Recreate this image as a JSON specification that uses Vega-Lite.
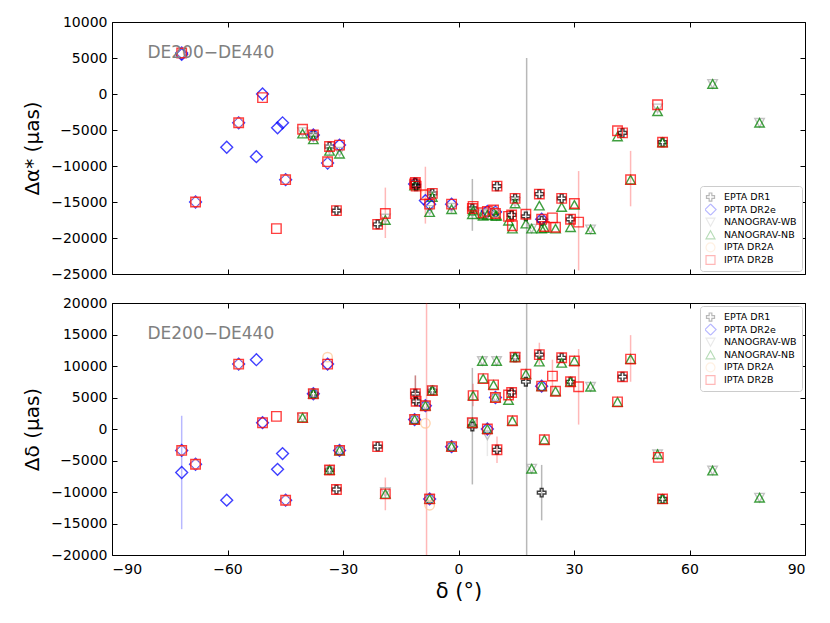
{
  "$schema": "https://vega.github.io/schema/vega-lite/v6.json",
  "background": "white",
  "padding": {"left": 22, "top": 14, "right": 24, "bottom": 20},
  "config": {
    "font": "DejaVu Sans",
    "view": {"stroke": "#000000", "strokeWidth": 1},
    "axis": {
      "domain": false, "grid": false, "tickColor": "#000000", "tickSize": -5, "tickWidth": 1,
      "labelFontSize": 14, "labelColor": "#000000", "labelPadding": 10,
      "titleFontSize": 20, "titleFontWeight": "normal", "titleColor": "#000000", "format": "d"
    },
    "legend": {
      "title": null, "labelFontSize": 9.5, "labelColor": "#000000", "symbolSize": 80, "symbolStrokeWidth": 1.2,
      "rowPadding": 0.6, "clipHeight": 12, "padding": 5, "strokeColor": "#cccccc", "fillColor": "#ffffff", "cornerRadius": 3,
      "offset": 3, "labelOffset": 8
    }
  },
  "datasets": {
    "ra": [
      {"s": "PPTA DR2e", "d": -71.9, "v": 5500},
      {"s": "PPTA DR2e", "d": -71.9, "v": 5700}, {"s": "IPTA DR2A", "d": -71.9, "v": 5700}, {"s": "IPTA DR2B", "d": -71.9, "v": 5700},
      {"s": "PPTA DR2e", "d": -68.3, "v": -15000}, {"s": "IPTA DR2A", "d": -68.3, "v": -15000}, {"s": "IPTA DR2B", "d": -68.3, "v": -15000},
      {"s": "PPTA DR2e", "d": -60.2, "v": -7400},
      {"s": "PPTA DR2e", "d": -57.1, "v": -4000}, {"s": "IPTA DR2A", "d": -57.1, "v": -4000}, {"s": "IPTA DR2B", "d": -57.1, "v": -4000},
      {"s": "PPTA DR2e", "d": -52.5, "v": -8700},
      {"s": "PPTA DR2e", "d": -50.9, "v": 0}, {"s": "IPTA DR2B", "d": -50.9, "v": -500},
      {"s": "PPTA DR2e", "d": -47.0, "v": -4700},
      {"s": "PPTA DR2e", "d": -45.7, "v": -4000},
      {"s": "PPTA DR2e", "d": -44.9, "v": -11900}, {"s": "IPTA DR2A", "d": -44.9, "v": -11900}, {"s": "IPTA DR2B", "d": -44.9, "v": -11900},
      {"s": "IPTA DR2B", "d": -47.3, "v": -18700},
      {"s": "NANOGRAV-WB", "d": -40.5, "v": -5300}, {"s": "NANOGRAV-NB", "d": -40.5, "v": -5500}, {"s": "IPTA DR2B", "d": -40.5, "v": -4900},
      {"s": "EPTA DR1", "d": -37.7, "v": -5700}, {"s": "PPTA DR2e", "d": -37.7, "v": -5700}, {"s": "NANOGRAV-WB", "d": -37.7, "v": -6000}, {"s": "NANOGRAV-NB", "d": -37.7, "v": -6300}, {"s": "IPTA DR2B", "d": -37.7, "v": -5700},
      {"s": "PPTA DR2e", "d": -34.0, "v": -9600}, {"s": "IPTA DR2A", "d": -34.0, "v": -9500}, {"s": "IPTA DR2B", "d": -34.0, "v": -9400},
      {"s": "EPTA DR1", "d": -33.5, "v": -7300}, {"s": "NANOGRAV-WB", "d": -33.5, "v": -7700}, {"s": "NANOGRAV-NB", "d": -33.5, "v": -7900}, {"s": "IPTA DR2B", "d": -33.5, "v": -7300},
      {"s": "PPTA DR2e", "d": -30.9, "v": -7100}, {"s": "NANOGRAV-WB", "d": -30.9, "v": -8000}, {"s": "NANOGRAV-NB", "d": -30.9, "v": -8300}, {"s": "IPTA DR2B", "d": -30.9, "v": -7100},
      {"s": "EPTA DR1", "d": -31.7, "v": -16200}, {"s": "IPTA DR2B", "d": -31.7, "v": -16200},
      {"s": "EPTA DR1", "d": -21.0, "v": -18100}, {"s": "IPTA DR2B", "d": -21.0, "v": -18100},
      {"s": "NANOGRAV-WB", "d": -19.0, "v": -17300}, {"s": "NANOGRAV-NB", "d": -19.0, "v": -17500}, {"s": "IPTA DR2B", "d": -19.0, "v": -16600},
      {"s": "PPTA DR2e", "d": -11.4, "v": -12500}, {"s": "NANOGRAV-WB", "d": -11.4, "v": -12700}, {"s": "NANOGRAV-NB", "d": -11.4, "v": -12700}, {"s": "IPTA DR2B", "d": -11.4, "v": -12500},
      {"s": "EPTA DR1", "d": -11.2, "v": -12300}, {"s": "IPTA DR2B", "d": -11.2, "v": -12300},
      {"s": "EPTA DR1", "d": -11.0, "v": -12800}, {"s": "IPTA DR2B", "d": -11.0, "v": -12800},
      {"s": "PPTA DR2e", "d": -8.6, "v": -14800}, {"s": "IPTA DR2A", "d": -8.6, "v": -14000}, {"s": "IPTA DR2B", "d": -8.6, "v": -14000},
      {"s": "EPTA DR1", "d": -6.8, "v": -13800}, {"s": "NANOGRAV-WB", "d": -6.8, "v": -14200}, {"s": "NANOGRAV-NB", "d": -6.8, "v": -14300}, {"s": "IPTA DR2B", "d": -6.8, "v": -13800},
      {"s": "PPTA DR2e", "d": -7.5, "v": -15300}, {"s": "NANOGRAV-WB", "d": -7.5, "v": -16100}, {"s": "NANOGRAV-NB", "d": -7.5, "v": -16400}, {"s": "IPTA DR2B", "d": -7.5, "v": -15300},
      {"s": "PPTA DR2e", "d": -1.8, "v": -15300}, {"s": "NANOGRAV-WB", "d": -1.8, "v": -15800}, {"s": "NANOGRAV-NB", "d": -1.8, "v": -16000}, {"s": "IPTA DR2B", "d": -1.8, "v": -15300},
      {"s": "EPTA DR1", "d": 3.6, "v": -15900}, {"s": "NANOGRAV-WB", "d": 3.6, "v": -16500}, {"s": "NANOGRAV-NB", "d": 3.6, "v": -16700}, {"s": "IPTA DR2B", "d": 3.6, "v": -15900},
      {"s": "NANOGRAV-NB", "d": 3.8, "v": -16200}, {"s": "IPTA DR2B", "d": 3.8, "v": -15600},
      {"s": "NANOGRAV-WB", "d": 6.2, "v": -16700}, {"s": "NANOGRAV-NB", "d": 6.2, "v": -16700},
      {"s": "NANOGRAV-NB", "d": 6.4, "v": -16900}, {"s": "IPTA DR2B", "d": 6.4, "v": -16500},
      {"s": "PPTA DR2e", "d": 7.5, "v": -16300}, {"s": "NANOGRAV-WB", "d": 7.5, "v": -16600}, {"s": "NANOGRAV-NB", "d": 7.5, "v": -16800}, {"s": "IPTA DR2B", "d": 7.5, "v": -16300},
      {"s": "NANOGRAV-NB", "d": 9.1, "v": -16400}, {"s": "IPTA DR2B", "d": 9.1, "v": -16100},
      {"s": "EPTA DR1", "d": 10.0, "v": -12800}, {"s": "IPTA DR2B", "d": 10.0, "v": -12800},
      {"s": "NANOGRAV-WB", "d": 9.9, "v": -16900}, {"s": "NANOGRAV-NB", "d": 9.9, "v": -16900},
      {"s": "PPTA DR2e", "d": 9.6, "v": -16400}, {"s": "NANOGRAV-NB", "d": 9.6, "v": -16900}, {"s": "IPTA DR2A", "d": 9.6, "v": -16500}, {"s": "IPTA DR2B", "d": 9.6, "v": -16600},
      {"s": "EPTA DR1", "d": 14.7, "v": -14500}, {"s": "NANOGRAV-WB", "d": 14.7, "v": -15000}, {"s": "NANOGRAV-NB", "d": 14.7, "v": -15200}, {"s": "IPTA DR2B", "d": 14.7, "v": -14500},
      {"s": "NANOGRAV-NB", "d": 13.0, "v": -17600}, {"s": "IPTA DR2B", "d": 13.0, "v": -17000},
      {"s": "EPTA DR1", "d": 13.8, "v": -16800}, {"s": "IPTA DR2B", "d": 13.8, "v": -16800},
      {"s": "NANOGRAV-NB", "d": 14.0, "v": -18700}, {"s": "IPTA DR2B", "d": 14.0, "v": -18300},
      {"s": "EPTA DR1", "d": 17.5, "v": -17000}, {"s": "NANOGRAV-NB", "d": 17.5, "v": -18000}, {"s": "IPTA DR2B", "d": 17.5, "v": -16700},
      {"s": "NANOGRAV-WB", "d": 19.0, "v": -18700}, {"s": "NANOGRAV-NB", "d": 19.0, "v": -18700},
      {"s": "EPTA DR1", "d": 21.0, "v": -13900}, {"s": "NANOGRAV-NB", "d": 21.0, "v": -15500}, {"s": "IPTA DR2B", "d": 21.0, "v": -13900},
      {"s": "EPTA DR1", "d": 21.6, "v": -17600}, {"s": "PPTA DR2e", "d": 21.6, "v": -17400}, {"s": "NANOGRAV-NB", "d": 21.6, "v": -18700}, {"s": "IPTA DR2B", "d": 21.6, "v": -17400},
      {"s": "NANOGRAV-NB", "d": 22.3, "v": -18600}, {"s": "IPTA DR2B", "d": 22.3, "v": -18400},
      {"s": "IPTA DR2B", "d": 24.4, "v": -17200},
      {"s": "NANOGRAV-NB", "d": 25.2, "v": -18700}, {"s": "IPTA DR2B", "d": 25.2, "v": -18500},
      {"s": "EPTA DR1", "d": 26.8, "v": -14500}, {"s": "NANOGRAV-NB", "d": 26.8, "v": -15700}, {"s": "IPTA DR2B", "d": 26.8, "v": -14500},
      {"s": "EPTA DR1", "d": 29.1, "v": -17400}, {"s": "NANOGRAV-NB", "d": 29.1, "v": -18500}, {"s": "IPTA DR2B", "d": 29.1, "v": -17400},
      {"s": "NANOGRAV-NB", "d": 30.1, "v": -15400}, {"s": "IPTA DR2B", "d": 30.1, "v": -15200},
      {"s": "IPTA DR2B", "d": 31.2, "v": -17800},
      {"s": "NANOGRAV-WB", "d": 34.3, "v": -18800}, {"s": "NANOGRAV-NB", "d": 34.3, "v": -18800},
      {"s": "NANOGRAV-NB", "d": 41.3, "v": -5900}, {"s": "IPTA DR2B", "d": 41.3, "v": -5100},
      {"s": "EPTA DR1", "d": 42.6, "v": -5400}, {"s": "IPTA DR2B", "d": 42.6, "v": -5400},
      {"s": "NANOGRAV-NB", "d": 44.7, "v": -11900}, {"s": "IPTA DR2B", "d": 44.7, "v": -11900},
      {"s": "NANOGRAV-WB", "d": 51.7, "v": -2000}, {"s": "NANOGRAV-NB", "d": 51.7, "v": -2400}, {"s": "IPTA DR2B", "d": 51.7, "v": -1500},
      {"s": "EPTA DR1", "d": 53.0, "v": -6700}, {"s": "NANOGRAV-NB", "d": 53.0, "v": -6700}, {"s": "IPTA DR2B", "d": 53.0, "v": -6700},
      {"s": "NANOGRAV-WB", "d": 66.0, "v": 1400}, {"s": "NANOGRAV-NB", "d": 66.0, "v": 1400},
      {"s": "NANOGRAV-WB", "d": 78.2, "v": -4000}, {"s": "NANOGRAV-NB", "d": 78.2, "v": -4000}
    ],
    "de": [
      {"s": "PPTA DR2e", "d": -71.9, "v": -6900},
      {"s": "PPTA DR2e", "d": -71.9, "v": -3400}, {"s": "IPTA DR2A", "d": -71.9, "v": -3400}, {"s": "IPTA DR2B", "d": -71.9, "v": -3400},
      {"s": "PPTA DR2e", "d": -68.3, "v": -5600}, {"s": "IPTA DR2A", "d": -68.3, "v": -5600}, {"s": "IPTA DR2B", "d": -68.3, "v": -5600},
      {"s": "PPTA DR2e", "d": -60.2, "v": -11300},
      {"s": "PPTA DR2e", "d": -57.1, "v": 10300}, {"s": "IPTA DR2A", "d": -57.1, "v": 10300}, {"s": "IPTA DR2B", "d": -57.1, "v": 10300},
      {"s": "PPTA DR2e", "d": -52.5, "v": 11000},
      {"s": "PPTA DR2e", "d": -50.9, "v": 1000}, {"s": "IPTA DR2B", "d": -50.9, "v": 1000},
      {"s": "PPTA DR2e", "d": -47.0, "v": -6400},
      {"s": "PPTA DR2e", "d": -45.7, "v": -3900},
      {"s": "PPTA DR2e", "d": -44.9, "v": -11300}, {"s": "IPTA DR2A", "d": -44.9, "v": -11300}, {"s": "IPTA DR2B", "d": -44.9, "v": -11300},
      {"s": "IPTA DR2B", "d": -47.3, "v": 2000},
      {"s": "NANOGRAV-WB", "d": -40.5, "v": 1800}, {"s": "NANOGRAV-NB", "d": -40.5, "v": 1800}, {"s": "IPTA DR2B", "d": -40.5, "v": 1800},
      {"s": "EPTA DR1", "d": -37.7, "v": 5600}, {"s": "PPTA DR2e", "d": -37.7, "v": 5600}, {"s": "NANOGRAV-WB", "d": -37.7, "v": 5600}, {"s": "NANOGRAV-NB", "d": -37.7, "v": 5600}, {"s": "IPTA DR2B", "d": -37.7, "v": 5600},
      {"s": "PPTA DR2e", "d": -34.0, "v": 10300}, {"s": "IPTA DR2A", "d": -34.0, "v": 11400}, {"s": "IPTA DR2B", "d": -34.0, "v": 10300},
      {"s": "EPTA DR1", "d": -33.5, "v": -6500}, {"s": "NANOGRAV-WB", "d": -33.5, "v": -6500}, {"s": "NANOGRAV-NB", "d": -33.5, "v": -6500}, {"s": "IPTA DR2B", "d": -33.5, "v": -6500},
      {"s": "PPTA DR2e", "d": -30.9, "v": -3400}, {"s": "NANOGRAV-WB", "d": -30.9, "v": -3400}, {"s": "NANOGRAV-NB", "d": -30.9, "v": -3400}, {"s": "IPTA DR2B", "d": -30.9, "v": -3400},
      {"s": "EPTA DR1", "d": -31.7, "v": -9600}, {"s": "IPTA DR2B", "d": -31.7, "v": -9600},
      {"s": "EPTA DR1", "d": -21.0, "v": -2800}, {"s": "IPTA DR2B", "d": -21.0, "v": -2800},
      {"s": "NANOGRAV-WB", "d": -19.0, "v": -10000}, {"s": "NANOGRAV-NB", "d": -19.0, "v": -10300}, {"s": "IPTA DR2B", "d": -19.0, "v": -10300},
      {"s": "PPTA DR2e", "d": -11.4, "v": 1500}, {"s": "NANOGRAV-WB", "d": -11.4, "v": 1500}, {"s": "NANOGRAV-NB", "d": -11.4, "v": 1500}, {"s": "IPTA DR2B", "d": -11.4, "v": 1500},
      {"s": "EPTA DR1", "d": -11.2, "v": 5600}, {"s": "IPTA DR2B", "d": -11.2, "v": 5600},
      {"s": "EPTA DR1", "d": -11.0, "v": 4400}, {"s": "IPTA DR2B", "d": -11.0, "v": 4400},
      {"s": "PPTA DR2e", "d": -8.6, "v": 3700}, {"s": "NANOGRAV-WB", "d": -8.6, "v": 3700}, {"s": "NANOGRAV-NB", "d": -8.6, "v": 3700}, {"s": "IPTA DR2A", "d": -8.6, "v": 900}, {"s": "IPTA DR2B", "d": -8.6, "v": 3700},
      {"s": "EPTA DR1", "d": -6.8, "v": 6100}, {"s": "NANOGRAV-WB", "d": -6.8, "v": 6100}, {"s": "NANOGRAV-NB", "d": -6.8, "v": 6100}, {"s": "IPTA DR2B", "d": -6.8, "v": 6100},
      {"s": "PPTA DR2e", "d": -7.5, "v": -11100}, {"s": "NANOGRAV-WB", "d": -7.5, "v": -11100}, {"s": "NANOGRAV-NB", "d": -7.5, "v": -11100}, {"s": "IPTA DR2A", "d": -7.5, "v": -12100}, {"s": "IPTA DR2B", "d": -7.5, "v": -11100},
      {"s": "PPTA DR2e", "d": -1.8, "v": -2800}, {"s": "NANOGRAV-WB", "d": -1.8, "v": -2800}, {"s": "NANOGRAV-NB", "d": -1.8, "v": -2800}, {"s": "IPTA DR2B", "d": -1.8, "v": -2800},
      {"s": "EPTA DR1", "d": 3.6, "v": 400}, {"s": "NANOGRAV-WB", "d": 3.6, "v": 1000}, {"s": "NANOGRAV-NB", "d": 3.6, "v": 1000}, {"s": "IPTA DR2B", "d": 3.6, "v": 1000},
      {"s": "NANOGRAV-NB", "d": 3.8, "v": 5300}, {"s": "IPTA DR2B", "d": 3.8, "v": 5300},
      {"s": "NANOGRAV-WB", "d": 6.2, "v": 10800}, {"s": "NANOGRAV-NB", "d": 6.2, "v": 10800},
      {"s": "NANOGRAV-NB", "d": 6.4, "v": 8000}, {"s": "IPTA DR2B", "d": 6.4, "v": 8000},
      {"s": "PPTA DR2e", "d": 7.5, "v": 0}, {"s": "NANOGRAV-WB", "d": 7.5, "v": -1000}, {"s": "NANOGRAV-NB", "d": 7.5, "v": 0}, {"s": "IPTA DR2B", "d": 7.5, "v": 0},
      {"s": "NANOGRAV-NB", "d": 9.1, "v": 7000}, {"s": "IPTA DR2B", "d": 9.1, "v": 7000},
      {"s": "EPTA DR1", "d": 10.0, "v": -3300}, {"s": "IPTA DR2B", "d": 10.0, "v": -3300},
      {"s": "NANOGRAV-WB", "d": 9.9, "v": 10800}, {"s": "NANOGRAV-NB", "d": 9.9, "v": 10800},
      {"s": "PPTA DR2e", "d": 9.6, "v": 5000}, {"s": "NANOGRAV-WB", "d": 9.6, "v": 5000}, {"s": "NANOGRAV-NB", "d": 9.6, "v": 5000}, {"s": "IPTA DR2A", "d": 9.6, "v": 5000}, {"s": "IPTA DR2B", "d": 9.6, "v": 5000},
      {"s": "EPTA DR1", "d": 14.7, "v": 11400}, {"s": "NANOGRAV-WB", "d": 14.7, "v": 11400}, {"s": "NANOGRAV-NB", "d": 14.7, "v": 11400}, {"s": "IPTA DR2B", "d": 14.7, "v": 11400},
      {"s": "NANOGRAV-NB", "d": 13.0, "v": 4600}, {"s": "IPTA DR2B", "d": 13.0, "v": 5400},
      {"s": "EPTA DR1", "d": 13.8, "v": 5800}, {"s": "IPTA DR2B", "d": 13.8, "v": 5800},
      {"s": "NANOGRAV-NB", "d": 14.0, "v": 1300}, {"s": "IPTA DR2B", "d": 14.0, "v": 1300},
      {"s": "EPTA DR1", "d": 17.5, "v": 7500}, {"s": "NANOGRAV-NB", "d": 17.5, "v": 8700}, {"s": "IPTA DR2B", "d": 17.5, "v": 8700},
      {"s": "NANOGRAV-WB", "d": 19.0, "v": -6300}, {"s": "NANOGRAV-NB", "d": 19.0, "v": -6300},
      {"s": "EPTA DR1", "d": 21.0, "v": 11800}, {"s": "NANOGRAV-NB", "d": 21.0, "v": 10700}, {"s": "IPTA DR2B", "d": 21.0, "v": 11800},
      {"s": "EPTA DR1", "d": 21.6, "v": -10100}, {"s": "PPTA DR2e", "d": 21.6, "v": 6800}, {"s": "NANOGRAV-NB", "d": 21.6, "v": 6800}, {"s": "IPTA DR2B", "d": 21.6, "v": 6800},
      {"s": "NANOGRAV-NB", "d": 22.3, "v": -1700}, {"s": "IPTA DR2B", "d": 22.3, "v": -1700},
      {"s": "IPTA DR2B", "d": 24.4, "v": 8400},
      {"s": "NANOGRAV-NB", "d": 25.2, "v": 6000}, {"s": "IPTA DR2B", "d": 25.2, "v": 6000},
      {"s": "EPTA DR1", "d": 26.8, "v": 11300}, {"s": "NANOGRAV-NB", "d": 26.8, "v": 10500}, {"s": "IPTA DR2B", "d": 26.8, "v": 11300},
      {"s": "EPTA DR1", "d": 29.1, "v": 7500}, {"s": "NANOGRAV-NB", "d": 29.1, "v": 7500}, {"s": "IPTA DR2B", "d": 29.1, "v": 7500},
      {"s": "NANOGRAV-NB", "d": 30.1, "v": 10800}, {"s": "IPTA DR2B", "d": 30.1, "v": 10800},
      {"s": "IPTA DR2B", "d": 31.2, "v": 6700},
      {"s": "NANOGRAV-WB", "d": 34.3, "v": 6700}, {"s": "NANOGRAV-NB", "d": 34.3, "v": 6700},
      {"s": "NANOGRAV-NB", "d": 41.3, "v": 4300}, {"s": "IPTA DR2B", "d": 41.3, "v": 4300},
      {"s": "EPTA DR1", "d": 42.6, "v": 8300}, {"s": "IPTA DR2B", "d": 42.6, "v": 8300},
      {"s": "NANOGRAV-NB", "d": 44.7, "v": 11100}, {"s": "IPTA DR2B", "d": 44.7, "v": 11100},
      {"s": "NANOGRAV-WB", "d": 51.7, "v": -4000}, {"s": "NANOGRAV-NB", "d": 51.7, "v": -4000}, {"s": "IPTA DR2B", "d": 51.9, "v": -4500},
      {"s": "EPTA DR1", "d": 53.0, "v": -11100}, {"s": "NANOGRAV-NB", "d": 53.0, "v": -11100}, {"s": "IPTA DR2B", "d": 53.0, "v": -11100},
      {"s": "NANOGRAV-WB", "d": 66.0, "v": -6600}, {"s": "NANOGRAV-NB", "d": 66.0, "v": -6600},
      {"s": "NANOGRAV-WB", "d": 78.2, "v": -10900}, {"s": "NANOGRAV-NB", "d": 78.2, "v": -10900}
    ],
    "rae": [
      {"s": "IPTA DR2B", "d": -19.0, "lo": -20000, "hi": -13000},
      {"s": "IPTA DR2B", "d": -8.6, "lo": -18000, "hi": -10100},
      {"s": "EPTA DR1", "d": 3.6, "lo": -19000, "hi": -11800},
      {"s": "EPTA DR1", "d": 17.7, "lo": -40000, "hi": 5000},
      {"s": "IPTA DR2B", "d": 31.2, "lo": -24500, "hi": -10700},
      {"s": "IPTA DR2B", "d": 44.7, "lo": -15600, "hi": -7900}
    ],
    "dee": [
      {"s": "PPTA DR2e", "d": -71.9, "lo": -15900, "hi": 2100},
      {"s": "IPTA DR2B", "d": -19.0, "lo": -12900, "hi": -7700},
      {"s": "EPTA DR1", "d": -11.2, "lo": 3700, "hi": 8500},
      {"s": "IPTA DR2B", "d": -11.2, "lo": 3700, "hi": 8500},
      {"s": "IPTA DR2B", "d": -8.3, "lo": -40000, "hi": 40000},
      {"s": "EPTA DR1", "d": 3.6, "lo": -8800, "hi": 9700},
      {"s": "IPTA DR2B", "d": 3.8, "lo": 3600, "hi": 7200},
      {"s": "NANOGRAV-WB", "d": 7.5, "lo": -4300, "hi": 600},
      {"s": "IPTA DR2B", "d": 10.0, "lo": -5400, "hi": -1200},
      {"s": "EPTA DR1", "d": 17.7, "lo": -40000, "hi": 40000},
      {"s": "IPTA DR2B", "d": 21.0, "lo": 10200, "hi": 13700},
      {"s": "EPTA DR1", "d": 21.6, "lo": -14500, "hi": -5700},
      {"s": "IPTA DR2B", "d": 24.4, "lo": 5400, "hi": 11000},
      {"s": "IPTA DR2B", "d": 31.2, "lo": 700, "hi": 12700},
      {"s": "IPTA DR2B", "d": 44.7, "lo": 7500, "hi": 14900}
    ]
  },
  "spacing": 13,
  "resolve": {"legend": {"color": "independent", "shape": "independent"}},
  "vconcat": [
    {
      "width": 693,
      "height": 252,
      "layer": [
        {
          "data": {"name": "rae"},
          "mark": {"type": "rule", "clip": true, "opacity": 0.28, "strokeWidth": 1.5},
          "encoding": {
            "x": {"field": "d", "type": "quantitative", "scale": {"domain": [-90, 90], "nice": false},
                  "axis": {"orient": "top", "labels": false, "title": null, "values": [-90, -60, -30, 0, 30, 60, 90]}},
            "y": {"field": "lo", "type": "quantitative", "scale": {"domain": [-25000, 10000], "nice": false},
                  "axis": {"orient": "right", "labels": false, "title": null, "values": [-25000, -20000, -15000, -10000, -5000, 0, 5000, 10000]}},
            "y2": {"field": "hi"},
            "color": {"field": "s", "type": "nominal",
                      "scale": {"domain": ["EPTA DR1", "PPTA DR2e", "NANOGRAV-WB", "NANOGRAV-NB", "IPTA DR2A", "IPTA DR2B"],
                                "range": ["#000000", "#0000ff", "#b0b0b0", "#008000", "#ffc896", "#ff0000"]}}
          }
        },
        {
          "data": {"name": "ra"},
          "mark": {"type": "point", "filled": false, "strokeWidth": 1.4, "opacity": 0.75, "size": 90},
          "encoding": {
            "x": {"field": "d", "type": "quantitative", "scale": {"domain": [-90, 90], "nice": false},
                  "axis": {"labels": false, "title": null, "values": [-90, -60, -30, 0, 30, 60, 90]}},
            "y": {"field": "v", "type": "quantitative", "scale": {"domain": [-25000, 10000], "nice": false},
                  "axis": {"title": "Δα* (μas)", "titlePadding": 8, "values": [-25000, -20000, -15000, -10000, -5000, 0, 5000, 10000]}},
            "color": {"field": "s", "type": "nominal",
                      "scale": {"domain": ["EPTA DR1", "PPTA DR2e", "NANOGRAV-WB", "NANOGRAV-NB", "IPTA DR2A", "IPTA DR2B"],
                                "range": ["#000000", "#0000ff", "#b0b0b0", "#008000", "#ffc896", "#ff0000"]},
                      "legend": {"orient": "bottom-right", "symbolSize": 80, "clipHeight": 12, "rowPadding": 0.6}},
            "shape": {"field": "s", "type": "nominal",
                      "scale": {"domain": ["EPTA DR1", "PPTA DR2e", "NANOGRAV-WB", "NANOGRAV-NB", "IPTA DR2A", "IPTA DR2B"],
                                "range": ["M-0.3,-0.9H0.3V-0.3H0.9V0.3H0.3V0.9H-0.3V0.3H-0.9V-0.3H-0.3Z", "M0,-1.25L1.25,0L0,1.25L-1.25,0Z", "M-1,-0.9L1,-0.9L0,0.9Z", "M0,-0.9L1,0.9L-1,0.9Z", "circle", "M-1,-1H1V1H-1Z"]},
                      "legend": {"orient": "bottom-right", "symbolSize": 80, "clipHeight": 12, "rowPadding": 0.6}}
          }
        },
        {
          "data": {"values": [{"t": "DE200−DE440"}]},
          "mark": {"type": "text", "align": "left", "baseline": "middle", "fontSize": 17, "color": "#808080"},
          "encoding": {
            "x": {"datum": -80.8, "type": "quantitative", "axis": null},
            "y": {"datum": 5700, "type": "quantitative", "axis": null},
            "text": {"field": "t"}
          }
        }
      ],
      "resolve": {"axis": {"x": "independent", "y": "independent"}}
    },
    {
      "width": 693,
      "height": 252,
      "layer": [
        {
          "data": {"name": "dee"},
          "mark": {"type": "rule", "clip": true, "opacity": 0.28, "strokeWidth": 1.5},
          "encoding": {
            "x": {"field": "d", "type": "quantitative", "scale": {"domain": [-90, 90], "nice": false},
                  "axis": {"orient": "top", "labels": false, "title": null, "values": [-90, -60, -30, 0, 30, 60, 90]}},
            "y": {"field": "lo", "type": "quantitative", "scale": {"domain": [-20000, 20000], "nice": false},
                  "axis": {"orient": "right", "labels": false, "title": null, "values": [-20000, -15000, -10000, -5000, 0, 5000, 10000, 15000, 20000]}},
            "y2": {"field": "hi"},
            "color": {"field": "s", "type": "nominal",
                      "scale": {"domain": ["EPTA DR1", "PPTA DR2e", "NANOGRAV-WB", "NANOGRAV-NB", "IPTA DR2A", "IPTA DR2B"],
                                "range": ["#000000", "#0000ff", "#b0b0b0", "#008000", "#ffc896", "#ff0000"]}}
          }
        },
        {
          "data": {"name": "de"},
          "mark": {"type": "point", "filled": false, "strokeWidth": 1.4, "opacity": 0.75, "size": 90},
          "encoding": {
            "x": {"field": "d", "type": "quantitative", "scale": {"domain": [-90, 90], "nice": false},
                  "axis": {"title": "δ (°)", "titlePadding": 4, "titleFontSize": 21, "labelPadding": 12, "values": [-90, -60, -30, 0, 30, 60, 90]}},
            "y": {"field": "v", "type": "quantitative", "scale": {"domain": [-20000, 20000], "nice": false},
                  "axis": {"title": "Δδ (μas)", "titlePadding": 8, "values": [-20000, -15000, -10000, -5000, 0, 5000, 10000, 15000, 20000]}},
            "color": {"field": "s", "type": "nominal",
                      "scale": {"domain": ["EPTA DR1", "PPTA DR2e", "NANOGRAV-WB", "NANOGRAV-NB", "IPTA DR2A", "IPTA DR2B"],
                                "range": ["#000000", "#0000ff", "#b0b0b0", "#008000", "#ffc896", "#ff0000"]},
                      "legend": {"orient": "top-right", "symbolSize": 80, "clipHeight": 12, "rowPadding": 0.6}},
            "shape": {"field": "s", "type": "nominal",
                      "scale": {"domain": ["EPTA DR1", "PPTA DR2e", "NANOGRAV-WB", "NANOGRAV-NB", "IPTA DR2A", "IPTA DR2B"],
                                "range": ["M-0.3,-0.9H0.3V-0.3H0.9V0.3H0.3V0.9H-0.3V0.3H-0.9V-0.3H-0.3Z", "M0,-1.25L1.25,0L0,1.25L-1.25,0Z", "M-1,-0.9L1,-0.9L0,0.9Z", "M0,-0.9L1,0.9L-1,0.9Z", "circle", "M-1,-1H1V1H-1Z"]},
                      "legend": {"orient": "top-right", "symbolSize": 80, "clipHeight": 12, "rowPadding": 0.6}}
          }
        },
        {
          "data": {"values": [{"t": "DE200−DE440"}]},
          "mark": {"type": "text", "align": "left", "baseline": "middle", "fontSize": 17, "color": "#808080"},
          "encoding": {
            "x": {"datum": -80.8, "type": "quantitative", "axis": null},
            "y": {"datum": 15080, "type": "quantitative", "axis": null},
            "text": {"field": "t"}
          }
        }
      ],
      "resolve": {"axis": {"x": "independent", "y": "independent"}}
    }
  ]
}
